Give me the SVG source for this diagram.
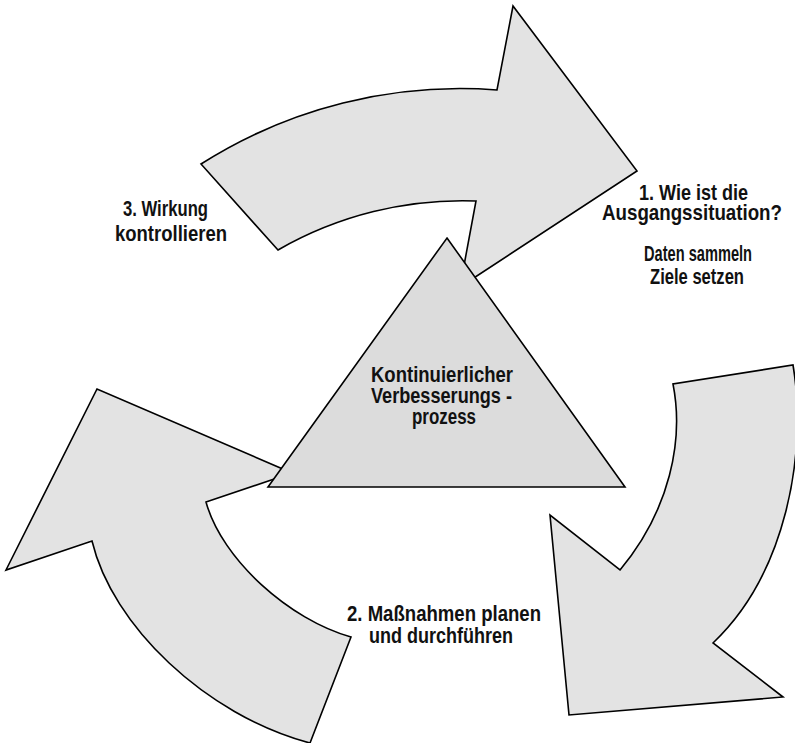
<svg xmlns="http://www.w3.org/2000/svg" width="795" height="743" viewBox="0 0 795 743">
<style>
.shape{stroke:#000;stroke-width:1.6;stroke-linejoin:miter;stroke-miterlimit:10}
.arrow{fill:#e3e3e3}
.tri{fill:#dcdcdc}
text{font-family:"Liberation Sans Narrow","Arial Narrow","Liberation Sans",Arial,sans-serif;font-weight:bold;font-size:22px;fill:#111;text-anchor:middle}
</style>
<rect width="795" height="743" fill="#fff"/>
<g id="connectors">
<path id="arrow-top" class="shape arrow" d="M201,164 A483,483 0 0 1 497,90 L513,6 L637,171 L460,287 L476,201 A370,370 0 0 0 278,250 Z"/>
<path id="arrow-right" class="shape arrow" d="M793,365 C808,455 785,575 713,643 L783,697 L569,715 L550,515 L620,570 C670,510 684,440 673,384 Z"/>
<path id="arrow-left" class="shape arrow" d="M351,637 L310,743 C205,715 112,625 92,541 L6,570 L97,389 L292,473 L206,502 C222,560 290,620 351,637 Z"/>
</g>
<g id="node-center">
<polygon class="shape tri" points="447,238 625,487 268,487"/>
<text x="442" y="382" textLength="142" lengthAdjust="spacingAndGlyphs">Kontinuierlicher</text>
<text x="441.5" y="403" textLength="141" lengthAdjust="spacingAndGlyphs">Verbesserungs -</text>
<text x="444" y="424" textLength="64" lengthAdjust="spacingAndGlyphs">prozess</text>
</g>
<g id="label-1">
<text x="693.5" y="199.5" textLength="109" lengthAdjust="spacingAndGlyphs">1. Wie ist die</text>
<text x="692" y="220" textLength="180" lengthAdjust="spacingAndGlyphs">Ausgangssituation?</text>
<text x="698" y="261" textLength="108" lengthAdjust="spacingAndGlyphs">Daten sammeln</text>
<text x="697" y="284" textLength="94" lengthAdjust="spacingAndGlyphs">Ziele setzen</text>
</g>
<g id="label-2">
<text x="444" y="621" textLength="194" lengthAdjust="spacingAndGlyphs">2. Maßnahmen planen</text>
<text x="441" y="643" textLength="144" lengthAdjust="spacingAndGlyphs">und durchführen</text>
</g>
<g id="label-3">
<text x="165.5" y="216" textLength="85" lengthAdjust="spacingAndGlyphs">3. Wirkung</text>
<text x="171" y="241" textLength="112" lengthAdjust="spacingAndGlyphs">kontrollieren</text>
</g>
</svg>
